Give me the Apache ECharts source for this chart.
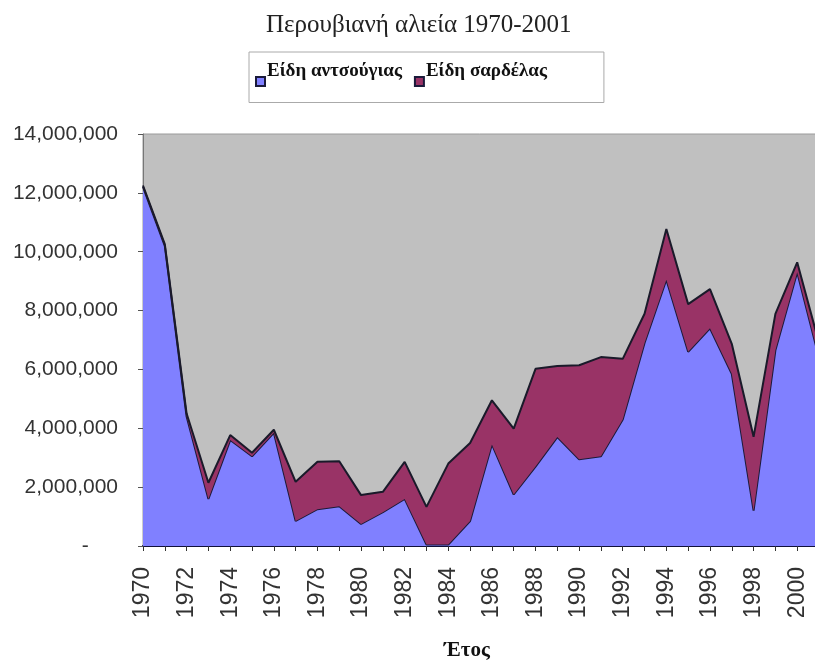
<!DOCTYPE html>
<html>
<head>
<meta charset="utf-8">
<script src="https://cdn.jsdelivr.net/npm/echarts@6/dist/echarts.min.js"></script>
<style>
  html, body { margin: 0; padding: 0; background: #fff; }
  #chart { width: 815px; height: 664px; }
</style>
</head>
<body>
<div id="chart"></div>
<script>
// years on the x axis
const years = ['1970','1971','1972','1973','1974','1975','1976','1977','1978','1979',
  '1980','1981','1982','1983','1984','1985','1986','1987','1988','1989',
  '1990','1991','1992','1993','1994','1995','1996','1997','1998','1999',
  '2000','2001']

// anchovy catch (tonnes)
const anchovy = [12200000, 10200000, 4400000, 1600000, 3600000, 3050000, 3850000, 850000, 1250000, 1350000,
  750000, 1150000, 1600000, 50000, 50000, 850000, 3450000, 1750000, 2700000, 3700000,
  2950000, 3050000, 4300000, 6900000, 9050000, 6600000, 7400000, 5850000, 1200000, 6650000,
  9300000, 6400000]

// sardine catch (tonnes), stacked on top
const sardine = [50000, 60000, 100000, 550000, 170000, 120000, 100000, 1330000, 1610000, 1530000,
  980000, 690000, 1260000, 1280000, 2750000, 2650000, 1500000, 2240000, 3320000, 2420000,
  3190000, 3370000, 2060000, 990000, 1720000, 1620000, 1330000, 1020000, 2510000, 1240000,
  340000, 500000]

const seriesNames = ['Είδη αντσούγιας', 'Είδη σαρδέλας']
const yTicks = { min: 0, max: 14000000, interval: 2000000 }

const serif = '"Liberation Serif", "DejaVu Serif", serif'
const sans = '"Liberation Sans", Arial, sans-serif'

const chart = echarts.init(document.getElementById('chart'))

chart.setOption({
  animation: false,
  backgroundColor: '#fff',
  title: {
    text: 'Περουβιανή αλιεία 1970-2001',
    left: 261,
    top: 8,
    textStyle: { fontFamily: serif, fontSize: 25, fontWeight: 'normal', color: '#222' }
  },
  legend: {
    left: 249,
    top: 52,
    orient: 'horizontal',
    icon: 'rect',
    itemWidth: 9,
    itemHeight: 9,
    itemGap: 12,
    padding: [10, 57, 7, 6],
    borderColor: '#aaa',
    borderWidth: 1,
    backgroundColor: '#fff',
    // empty second line lifts the name above the marker, like the original
    formatter: name => '{t|' + name + '}\n{s| }',
    textStyle: {
      rich: {
        t: { fontFamily: serif, fontSize: 19, fontWeight: 'bold', color: '#111', lineHeight: 18, padding: [0, 0, 0, -3] },
        s: { fontSize: 10, lineHeight: 20 }
      }
    },
    data: seriesNames
  },
  grid: {
    left: 143,
    right: -4,
    top: 134,
    bottom: 118,
    outerBoundsMode: 'none',
    show: true,
    backgroundColor: '#c0c0c0',
    borderColor: '#9a9a9a',
    borderWidth: 1
  },
  xAxis: {
    type: 'category',
    data: years,
    boundaryGap: false,
    name: 'Έτος',
    nameLocation: 'middle',
    nameGap: 94,
    nameTextStyle: { fontFamily: serif, fontSize: 21, fontWeight: 'bold', color: '#111', padding: [0, 28, 0, 0] },
    axisLine: { show: true, lineStyle: { color: '#10103a', width: 2 } },
    axisTick: { show: true, interval: 0, length: 5, lineStyle: { color: '#333' } },
    axisLabel: {
      interval: 1,
      rotate: 90,
      margin: 21,
      fontFamily: sans,
      fontSize: 23,
      color: '#333'
    },
    splitLine: { show: false }
  },
  yAxis: {
    type: 'value',
    min: yTicks.min,
    max: yTicks.max,
    interval: yTicks.interval,
    axisLine: { show: true, lineStyle: { color: '#777' } },
    axisTick: { show: true, length: 5, lineStyle: { color: '#555' } },
    axisLabel: {
      margin: 25,
      fontFamily: sans,
      fontSize: 21,
      color: '#333',
      formatter: v => v === 0 ? '-     ' : v.toLocaleString('en-US')
    },
    splitLine: { show: false }
  },
  series: [
    {
      name: seriesNames[0],
      type: 'line',
      stack: 'catch',
      data: anchovy,
      symbol: 'none',
      itemStyle: { color: '#8080ff', borderColor: '#1a1a3a', borderWidth: 1 },
      lineStyle: { color: '#1a1a3a', width: 2 },
      areaStyle: { color: '#8080ff', opacity: 1 },
      z: 2
    },
    {
      name: seriesNames[1],
      type: 'line',
      stack: 'catch',
      data: sardine,
      symbol: 'none',
      itemStyle: { color: '#993366', borderColor: '#1a1a3a', borderWidth: 1 },
      lineStyle: { color: '#1a1a2a', width: 2 },
      areaStyle: { color: '#993366', opacity: 1 },
      z: 3
    }
  ]
})
</script>
</body>
</html>
